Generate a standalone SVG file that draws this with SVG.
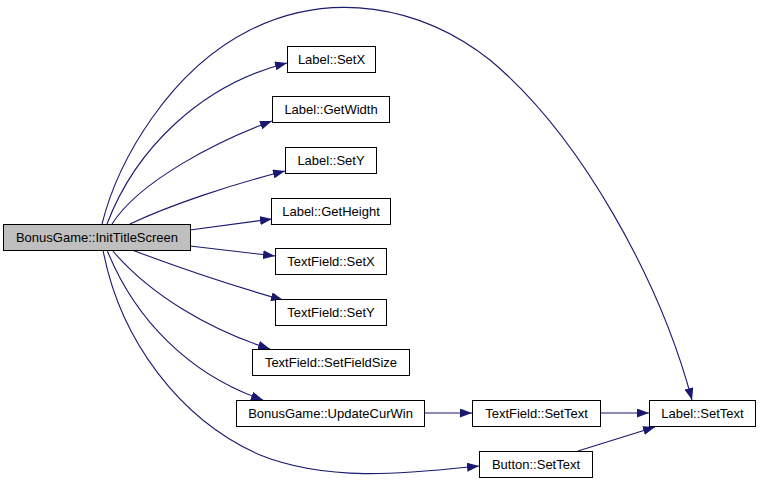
<svg xmlns="http://www.w3.org/2000/svg" width="760" height="483" viewBox="0 0 760 483">
<style>
.n rect{fill:#fff;stroke:#000;stroke-width:1}
.n text{font-family:"Liberation Sans",Arial,sans-serif;font-size:13px;fill:#000;text-anchor:middle}
#main rect{fill:#bfbfbf}
.e path{fill:none;stroke:#191970;stroke-width:1.1}
</style>
<defs>
<marker id="a" viewBox="0 0 12 9" refX="12" refY="4.5" markerWidth="12" markerHeight="9" markerUnits="userSpaceOnUse" orient="auto">
<path d="M0,0 L12,4.5 L0,9 z" fill="#191970"/>
</marker>
</defs>
<rect width="760" height="483" fill="#fff"/>
<g class="e" id="edges">
<path marker-end="url(#a)" d="M102,224 C118,160 170,70 250,30 C330,-10 420,5 490,60 C580,135 660,280 692,400"/>
<path marker-end="url(#a)" d="M107,224 C135,150 200,85 287,63"/>
<path marker-end="url(#a)" d="M112,224 C140,180 220,140 272,121"/>
<path marker-end="url(#a)" d="M130,224 C170,205 230,185 285,171"/>
<path marker-end="url(#a)" d="M190,230 L272,219"/>
<path marker-end="url(#a)" d="M190,246 L275,256"/>
<path marker-end="url(#a)" d="M132,250 C180,268 240,288 283,300"/>
<path marker-end="url(#a)" d="M112,250 C150,295 210,330 270,349"/>
<path marker-end="url(#a)" d="M107,250 C135,320 190,375 263,400"/>
<path marker-end="url(#a)" d="M103,250 C120,340 180,420 260,455 C330,483 410,473 479,466"/>
<path marker-end="url(#a)" d="M424,413 L472,413"/>
<path marker-end="url(#a)" d="M600,413 L649,413"/>
<path marker-end="url(#a)" d="M578,451 L655,427"/>
</g>
<g class="n" id="main"><rect x="3.5" y="224.5" width="187" height="26"/><text x="97" y="242">BonusGame::InitTitleScreen</text></g>
<g class="n" id="label_setx"><rect x="287.5" y="46.5" width="88" height="26"/><text x="331.5" y="64">Label::SetX</text></g>
<g class="n" id="label_getwidth"><rect x="272.5" y="96.5" width="117" height="26"/><text x="331" y="114">Label::GetWidth</text></g>
<g class="n" id="label_sety"><rect x="285.5" y="147.5" width="91" height="26"/><text x="331" y="165">Label::SetY</text></g>
<g class="n" id="label_getheight"><rect x="271.5" y="198.5" width="119" height="26"/><text x="331" y="216">Label::GetHeight</text></g>
<g class="n" id="textfield_setx"><rect x="275.5" y="248.5" width="111" height="26"/><text x="331" y="266">TextField::SetX</text></g>
<g class="n" id="textfield_sety"><rect x="275.5" y="299.5" width="111" height="26"/><text x="331" y="317">TextField::SetY</text></g>
<g class="n" id="textfield_setfieldsize"><rect x="252.5" y="349.5" width="157" height="26"/><text x="331" y="367">TextField::SetFieldSize</text></g>
<g class="n" id="updatecurwin"><rect x="236.5" y="400.5" width="188" height="26"/><text x="330.5" y="418">BonusGame::UpdateCurWin</text></g>
<g class="n" id="textfield_settext"><rect x="472.5" y="400.5" width="128" height="26"/><text x="536.5" y="418">TextField::SetText</text></g>
<g class="n" id="label_settext"><rect x="649.5" y="400.5" width="106" height="26"/><text x="702.5" y="418">Label::SetText</text></g>
<g class="n" id="button_settext"><rect x="479.5" y="451.5" width="113" height="26"/><text x="536" y="469">Button::SetText</text></g>
</svg>
